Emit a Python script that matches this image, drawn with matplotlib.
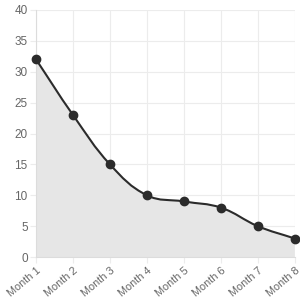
import matplotlib
matplotlib.use("Agg")
import matplotlib.pyplot as plt
import numpy as np
from matplotlib.path import Path
from matplotlib.patches import PathPatch

labels = ["Month 1", "Month 2", "Month 3", "Month 4",
          "Month 5", "Month 6", "Month 7", "Month 8"]
values = [32, 23, 15, 10, 9, 8, 5, 3]
yticks = [0, 5, 10, 15, 20, 25, 30, 35, 40]

TENSION = 0.4
LINE = "#2b2b2b"
FILL = "#e6e6e6"
GRID = "#ececec"
TEXT = "#666666"

plt.rcParams["font.family"] = ["Liberation Sans", "DejaVu Sans"]

fig = plt.figure(figsize=(3, 3), dpi=100)
ax = fig.add_axes([0.12, 0.143, 0.863, 0.824])
ax.set_xlim(0, len(labels) - 1)
ax.set_ylim(0, 40)

# spline control points like chart.js (computed in pixel space)
xs = np.arange(len(values))
pts = ax.transData.transform(np.column_stack([xs, values]))
n = len(pts)
verts = [pts[0]]
codes = [Path.MOVETO]
ctrl_prev, ctrl_next = [], []
for i in range(n):
    p0 = pts[max(i - 1, 0)]
    p1 = pts[i]
    p2 = pts[min(i + 1, n - 1)]
    d01 = np.hypot(*(p1 - p0))
    d12 = np.hypot(*(p2 - p1))
    tot = d01 + d12
    s01 = d01 / tot if tot else 0
    s12 = d12 / tot if tot else 0
    ctrl_prev.append(p1 - TENSION * s01 * (p2 - p0))
    ctrl_next.append(p1 + TENSION * s12 * (p2 - p0))
for i in range(1, n):
    verts += [ctrl_next[i - 1], ctrl_prev[i], pts[i]]
    codes += [Path.CURVE4] * 3
inv = ax.transData.inverted()
curve = inv.transform(np.array(verts))

line_path = Path(curve, codes)
fill_verts = np.vstack([curve, [[xs[-1], 0], [xs[0], 0], curve[0]]])
fill_codes = codes + [Path.LINETO, Path.LINETO, Path.CLOSEPOLY]
ax.add_patch(PathPatch(Path(fill_verts, fill_codes), facecolor=FILL,
                       edgecolor="none", zorder=1))
ax.add_patch(PathPatch(line_path, facecolor="none", edgecolor=LINE,
                       linewidth=1.5, zorder=3))
ax.plot(xs, values, "o", color=LINE, markersize=6, zorder=4, clip_on=False)

ax.set_xticks(xs)
ax.set_xticklabels(labels, rotation=40, ha="right", rotation_mode="anchor")
ax.set_yticks(yticks)
ax.grid(True, color=GRID, linewidth=0.8, zorder=0)
ax.set_axisbelow(True)
ax.tick_params(axis="both", colors=GRID, labelcolor=TEXT, labelsize=8.5,
               length=4, width=0.8, pad=2)
ax.tick_params(axis="x", labelsize=7.8)
for side in ["top", "right"]:
    ax.spines[side].set_visible(False)
for side in ["left", "bottom"]:
    ax.spines[side].set_color("#dcdcdc")
    ax.spines[side].set_linewidth(0.8)

fig.savefig("out.png", dpi=100)
